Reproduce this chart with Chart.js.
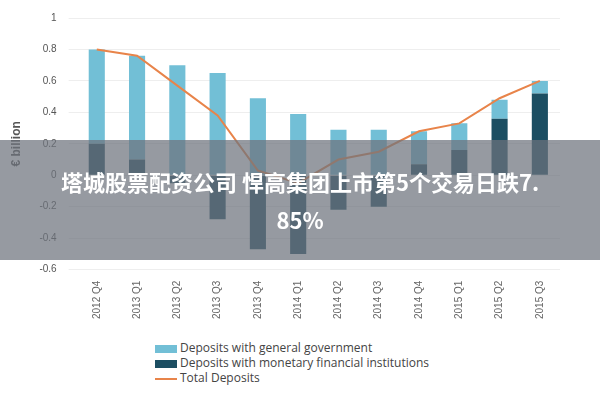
<!DOCTYPE html>
<html><head><meta charset="utf-8">
<script src="https://cdn.jsdelivr.net/npm/chart.js@4/dist/chart.umd.min.js"></script>
<style>
body{margin:0;width:600px;height:400px;background:#fff;font-family:"Open Sans",sans-serif;position:relative;overflow:hidden}
#wrap{position:absolute;left:0;top:0;width:560px;height:322px}
#legend{position:absolute;left:155px;top:340px;font-size:12px;color:#444;line-height:15px}
#legend span{display:inline-block;width:22px;height:8px;margin-right:3px;vertical-align:middle}
#banner{position:absolute;left:0;top:140px;width:600px;height:120px;background:rgba(110,115,125,0.72);color:#fff;font:bold 22px "Noto Sans CJK SC",sans-serif;text-align:center;line-height:38px;padding-top:22px;box-sizing:border-box}
</style></head><body>
<div id="wrap"><canvas id="c"></canvas></div>
<div id="legend">
<div><span style="background:#72bfd6"></span>Deposits with general government</div>
<div><span style="background:#1c4e62"></span>Deposits with monetary financial institutions</div>
<div><span style="background:#e8844a;height:2px"></span>Total Deposits</div>
</div>
<div id="banner">塔城股票配资公司 悍高集团上市第5个交易日跌7.<br>85%</div>
<script>
const quarters = ['2012 Q4','2013 Q1','2013 Q2','2013 Q3','2013 Q4','2014 Q1','2014 Q2','2014 Q3','2014 Q4','2015 Q1','2015 Q2','2015 Q3'];
const govDeposits = [0.6, 0.66, 0.7, 0.65, 0.49, 0.39, 0.29, 0.29, 0.21, 0.17, 0.12, 0.08];
const mfiDeposits = [0.2, 0.1, -0.05, -0.28, -0.47, -0.5, -0.22, -0.2, 0.07, 0.16, 0.36, 0.52];
const totalDeposits = [0.8, 0.76, 0.57, 0.38, 0.03, -0.05, 0.1, 0.15, 0.28, 0.33, 0.49, 0.6];

new Chart(document.getElementById('c'), {
  data: {
    labels: quarters,
    datasets: [
      { type: 'line', label: 'Total Deposits', data: totalDeposits, borderColor: '#e8844a', borderWidth: 2, pointRadius: 0, tension: 0, order: 0 },
      { type: 'bar', label: 'Deposits with monetary financial institutions', data: mfiDeposits, backgroundColor: '#1c4e62', barPercentage: 0.4, categoryPercentage: 1, order: 1 },
      { type: 'bar', label: 'Deposits with general government', data: govDeposits, backgroundColor: '#72bfd6', barPercentage: 0.4, categoryPercentage: 1, order: 1 }
    ]
  },
  options: {
    responsive: true, maintainAspectRatio: false, animation: false,
    layout: { padding: { top: 10, left: 5 } },
    plugins: { legend: { display: false }, tooltip: { enabled: false } },
    scales: {
      x: { stacked: true, grid: { display: false }, border: { display: false },
        ticks: { color: '#666', font: { size: 10 }, maxRotation: 90, minRotation: 90 } },
      y: { stacked: true, min: -0.6, max: 1, border: { display: false },
        grid: { color: '#eee' },
        ticks: { stepSize: 0.2, color: '#555', font: { size: 10 }, padding: 12,
          callback: (v) => Math.abs(v) < 1e-9 ? '0' : String(Math.round(v * 10) / 10) },
        title: { display: true, text: '€ billion', color: '#555', font: { size: 12, weight: 'bold' } } }
    }
  }
});
</script>
</body></html>
